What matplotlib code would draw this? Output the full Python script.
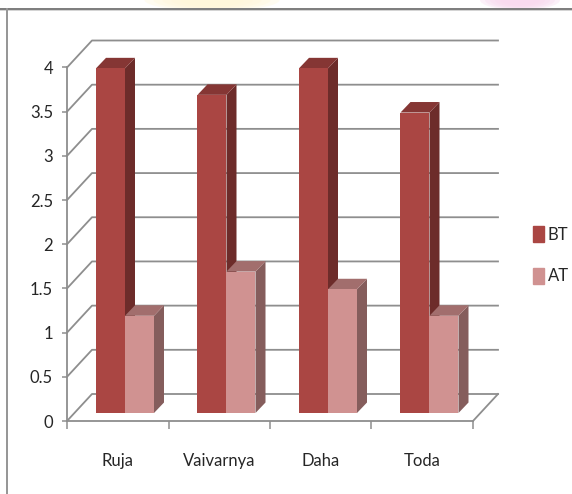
import matplotlib
matplotlib.use("Agg")
import matplotlib.pyplot as plt
from matplotlib.patches import Polygon, Ellipse, Rectangle

categories = ["Ruja", "Vaivarnya", "Daha", "Toda"]
bt = [3.9, 3.6, 3.9, 3.4]
at = [1.1, 1.6, 1.4, 1.1]
yticks = [0, 0.5, 1, 1.5, 2, 2.5, 3, 3.5, 4]
yticklabels = ["0", "0.5", "1", "1.5", "2", "2.5", "3", "3.5", "4"]

W, H = 572, 494
plt.rcParams['font.family'] = ['Lato', 'DejaVu Sans']
fs = 12
txt = "#262626"

fig = plt.figure(figsize=(W/100, H/100), dpi=100)

# background layer in pixels, for the slide frame and the blobs above it
bg = fig.add_axes([0, 0, 1, 1])
bg.set_xlim(0, W)
bg.set_ylim(H, 0)
bg.axis("off")
for k in range(5):
    bg.add_patch(Ellipse((212, 0), 135-18*k, 22-2*k, color="#fff7d8", alpha=0.35, lw=0))
    bg.add_patch(Ellipse((520, 0), 80-10*k, 20-2*k, color="#f9d8ee", alpha=0.35, lw=0))
bg.add_patch(Rectangle((0, 8), W, 2.2, color="#7f7f7f", lw=0))
bg.add_patch(Rectangle((0, 10.2), W, 1, color="#d4d4d4", lw=0))
bg.add_patch(Rectangle((5.5, 8), 2, H, color="#979797", lw=0))

# front plane of the 3d box
left, right, top, bottom = 67, 473, 67.5, 421
ax = fig.add_axes([left/W, 1-bottom/H, (right-left)/W, (bottom-top)/H])
ax.set_xlim(0, 4)
ax.set_ylim(0, 4)
ax.patch.set_alpha(0)

# depth of the box and of the bars in data units
px = 4/(right-left)
py = 4/(bottom-top)
dx, dy = 25*px, 27*py
bar_dx, bar_dy = 10*px, 10.5*py
lift = 8*py
w = 29*px
grid = "#8e8e8e"

for t in yticks:
    ax.plot([0, dx, 4+dx], [t, t+dy, t+dy], color=grid, lw=1.3, clip_on=False, zorder=1)
ax.plot([4, 4+dx], [0, dy], color=grid, lw=1.3, clip_on=False, zorder=1)

def bar3d(x, v, front, side, roof):
    b = lift
    t = lift+v
    ax.bar(x, v, w, bottom=b, align="edge", color=front, clip_on=False, zorder=3)
    ax.add_patch(Polygon([(x+w, b), (x+w+bar_dx, b+bar_dy), (x+w+bar_dx, t+bar_dy), (x+w, t)],
                         color=side, lw=0, clip_on=False, zorder=2.5))
    ax.add_patch(Polygon([(x, t), (x+bar_dx, t+bar_dy), (x+w+bar_dx, t+bar_dy), (x+w, t)],
                         color=roof, lw=0, clip_on=False, zorder=2.5))

for i in range(len(categories)):
    x = i+w
    bar3d(x, bt[i], "#aa4643", "#6d2c2a", "#853634")
    bar3d(x+w, at[i], "#d09291", "#855d5c", "#a26e6d")

for s in ["top", "right"]:
    ax.spines[s].set_visible(False)
for s in ["left", "bottom"]:
    ax.spines[s].set_color(grid)
    ax.spines[s].set_linewidth(1.3)
    ax.spines[s].set_zorder(4)

ax.set_yticks(yticks)
ax.set_yticklabels(yticklabels)
ax.set_xticks(range(5))
ax.set_xticklabels([])
ax.tick_params(axis="y", length=3.6, width=1.1, color=grid, labelsize=fs, labelcolor=txt, pad=6.5)
ax.tick_params(axis="x", direction="out", length=5.8, width=1.1, color=grid)

for i, c in enumerate(categories):
    ax.annotate(c, (i+0.5, 0), xytext=(0, -28.5), textcoords="offset points", ha="center", va="center",
                fontsize=fs, color=txt, annotation_clip=False)

# legend
fig.legend(handles=[Rectangle((0, 0), 1, 1, color="#aa4643"), Rectangle((0, 0), 1, 1, color="#d09291")],
           labels=["BT", "AT"], loc="center left", bbox_to_anchor=(533/W, 1-255/H), frameon=False,
           fontsize=fs, labelcolor=txt, handlelength=0.63, handleheight=1.1, handletextpad=0.25,
           labelspacing=1.5, borderpad=0, borderaxespad=0)

fig.savefig("out.png", dpi=100)
